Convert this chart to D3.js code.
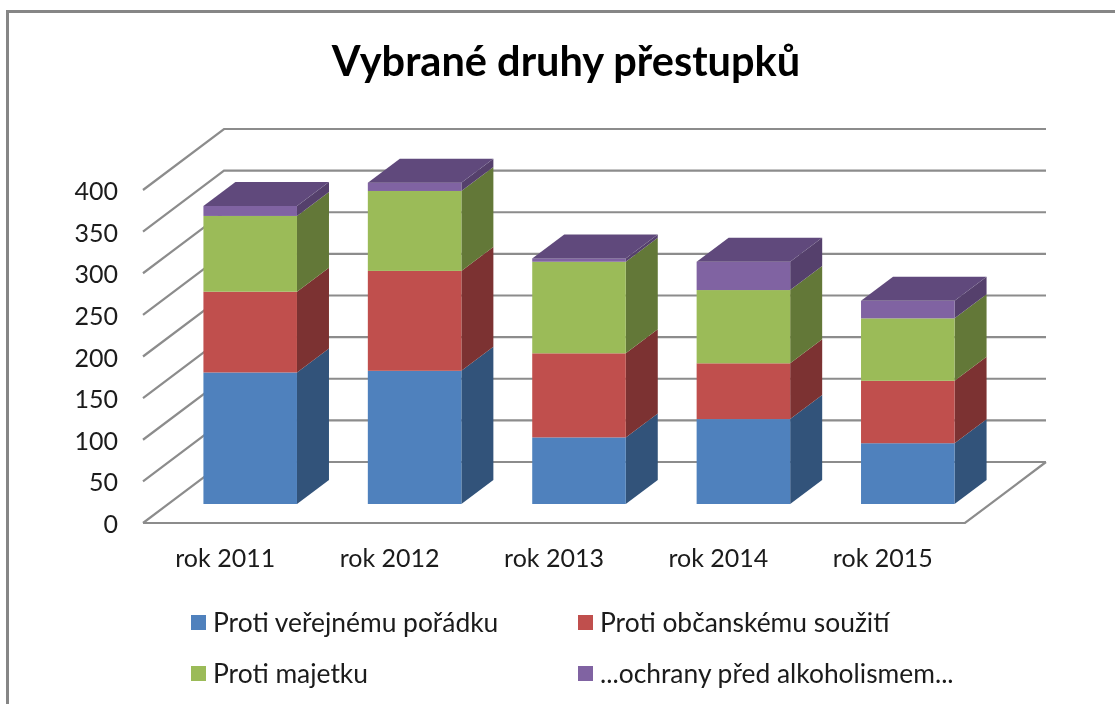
<!DOCTYPE html>
<html>
<head>
<meta charset="utf-8">
<script src="https://cdn.jsdelivr.net/npm/d3@7"></script>
<style>
  html, body { margin: 0; padding: 0; background: #fff; overflow: hidden; }
  text { font-family: Lato, Carlito, sans-serif; fill: #1a1a1a; }
</style>
</head>
<body>
<svg id="chart" width="1115" height="704"></svg>
<script>
// values
const years = ["rok 2011", "rok 2012", "rok 2013", "rok 2014", "rok 2015"];
const seriesNames = ["Proti veřejnému pořádku", "Proti občanskému soužití", "Proti majetku", "...ochrany před alkoholismem..."];
const verejnyPoradek = [158, 160, 80, 102, 73];
const obcanskeSouziti = [97, 120, 101, 67, 75];
const majetek = [91, 96, 110, 88, 75];
const alkoholismus = [12, 10, 4, 34, 21];
const yTicks = [0, 50, 100, 150, 200, 250, 300, 350, 400];

const frontColors = ["#4f81bd", "#c0504d", "#9bbb59", "#8064a2"];
const sideColors = ["#31527a", "#7b3230", "#647837", "#54406c"];
const topColor = "#604a7b";
const gridColor = "#8c8c8c";

const svg = d3.select("#chart");

// slight softening, the source is an upscaled screenshot
svg.append("defs").append("filter")
  .attr("id", "soft")
  .attr("filterUnits", "userSpaceOnUse")
  .attr("x", 0).attr("y", 0).attr("width", 1115).attr("height", 704)
  .append("feGaussianBlur")
  .attr("stdDeviation", 0.7);

const root = svg.append("g").attr("filter", "url(#soft)");

const x = d3.scaleBand().domain(years).range([143, 965]).paddingInner(0.431).paddingOuter(0.2155);
const y = d3.scaleLinear().domain([0, 400]).range([523, 190]);

// oblique projection of the 3d box
const wall = { dx: 81, dy: -61 };    // front edge of floor to back wall
const barFront = { dx: 25, dy: -19 }; // front edge of floor to bar front
const barDepth = { dx: 32, dy: -24 };

// frame
root.append("rect")
  .attr("x", 7.5).attr("y", 11.5)
  .attr("width", 1200).attr("height", 800)
  .attr("fill", "none").attr("stroke", "#868686").attr("stroke-width", 3);

root.append("text")
  .attr("x", 566).attr("y", 76)
  .attr("text-anchor", "middle")
  .style("font-size", "41.5px").style("font-weight", 700)
  .style("fill", "#000")
  .text("Vybrané druhy přestupků");

// gridlines: diagonal on the side wall, then along the back wall
const [x0, x1] = x.range();
const grid = root.append("g").attr("fill", "none").attr("stroke", gridColor).attr("stroke-width", 2.2);
grid.selectAll("path")
  .data(yTicks)
  .join("path")
  .attr("d", (d) => `M${x0},${y(d)}L${x0 + wall.dx},${y(d) + wall.dy}L${x1 + wall.dx},${y(d) + wall.dy}`);

// floor outline
grid.append("path")
  .attr("d", `M${x0},${y(0)}L${x1},${y(0)}L${x1 + wall.dx},${y(0) + wall.dy}`);

// stacks
const rows = years.map((year, i) => ({
  year,
  a: verejnyPoradek[i],
  b: obcanskeSouziti[i],
  c: majetek[i],
  d: alkoholismus[i],
}));
const stacked = d3.stack().keys(["a", "b", "c", "d"])(rows);

const poly = (pts) => "M" + pts.map((p) => p.join(",")).join("L") + "Z";

const layers = root.append("g").selectAll("g")
  .data(stacked)
  .join("g");

// side faces
layers.selectAll(".side")
  .data((s) => s.map((d) => ({ d, i: s.index })))
  .join("path")
  .attr("class", "side")
  .attr("fill", (o) => sideColors[o.i])
  .attr("d", (o) => {
    const right = x(o.d.data.year) + x.bandwidth() + barFront.dx;
    const lo = y(o.d[0]) + barFront.dy;
    const hi = y(o.d[1]) + barFront.dy;
    return poly([
      [right, lo],
      [right + barDepth.dx, lo + barDepth.dy],
      [right + barDepth.dx, hi + barDepth.dy],
      [right, hi],
    ]);
  });

// front faces
layers.selectAll(".front")
  .data((s) => s.map((d) => ({ d, i: s.index })))
  .join("rect")
  .attr("class", "front")
  .attr("fill", (o) => frontColors[o.i])
  .attr("x", (o) => x(o.d.data.year) + barFront.dx)
  .attr("width", x.bandwidth())
  .attr("y", (o) => y(o.d[1]) + barFront.dy)
  .attr("height", (o) => y(o.d[0]) - y(o.d[1]));

// lid on top of each stack
root.append("g").selectAll("path")
  .data(stacked[stacked.length - 1])
  .join("path")
  .attr("fill", topColor)
  .attr("d", (d) => {
    const left = x(d.data.year) + barFront.dx;
    const right = left + x.bandwidth();
    const top = y(d[1]) + barFront.dy;
    return poly([
      [left, top],
      [right, top],
      [right + barDepth.dx, top + barDepth.dy],
      [left + barDepth.dx, top + barDepth.dy],
    ]);
  });

// axes
const yAxis = root.append("g")
  .attr("transform", `translate(${x0},0)`)
  .call(d3.axisLeft(y).tickValues(yTicks).tickSize(0).tickPadding(25));
const xAxis = root.append("g")
  .attr("transform", `translate(0,${y(0)})`)
  .call(d3.axisBottom(x).tickSize(0).tickPadding(26));
yAxis.select(".domain").remove();
xAxis.select(".domain").remove();
yAxis.selectAll("text").attr("dy", "0.38em").style("font-size", "25px");
xAxis.selectAll("text").style("font-size", "25px");

// legend
const legendX = d3.scalePoint().domain([0, 1]).range([191, 578]);
const legendY = d3.scalePoint().domain([0, 1]).range([615, 666]);
const legend = root.append("g").selectAll("g")
  .data(seriesNames)
  .join("g")
  .attr("transform", (d, i) => `translate(${legendX(i % 2)},${legendY(Math.floor(i / 2))})`);
legend.append("rect")
  .attr("width", 15).attr("height", 15)
  .attr("fill", (d, i) => frontColors[i]);
legend.append("text")
  .attr("x", 22).attr("y", 17)
  .style("font-size", "26.4px")
  .text((d) => d);
</script>
</body>
</html>
